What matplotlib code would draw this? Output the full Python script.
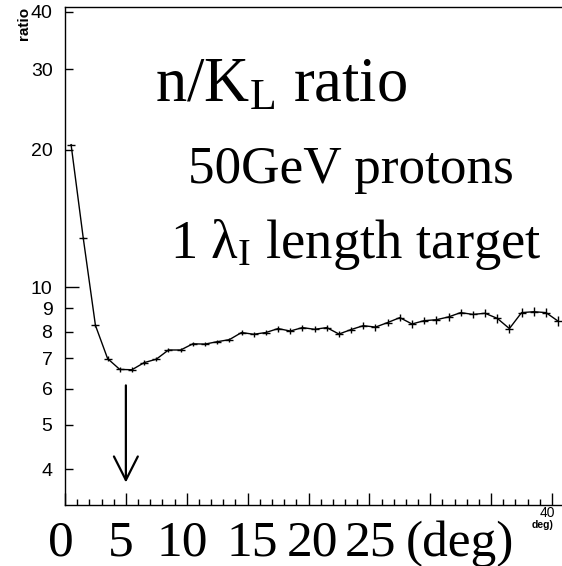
import matplotlib
matplotlib.use("Agg")
import matplotlib.pyplot as plt
from matplotlib.ticker import FixedLocator, FixedFormatter, NullFormatter, MultipleLocator
import matplotlib.transforms as mtransforms

# ---- data ----
bin_centers = [0.5 + i for i in range(41)]
ratio_values = [20.5, 12.8, 8.25, 6.98, 6.61, 6.60, 6.84, 6.96, 7.29, 7.29,
                7.52, 7.51, 7.60, 7.68, 7.96, 7.89, 7.96, 8.12, 8.02, 8.16,
                8.09, 8.16, 7.90, 8.08, 8.24, 8.18, 8.37, 8.58, 8.31, 8.45,
                8.49, 8.61, 8.80, 8.72, 8.77, 8.55, 8.12, 8.80, 8.84, 8.80,
                8.43]
ratio_errors = [0.08, 0.08, 0.08, 0.08, 0.08, 0.08, 0.08, 0.08, 0.08, 0.08,
                0.08, 0.08, 0.08, 0.08, 0.10, 0.10, 0.10, 0.12, 0.12, 0.12,
                0.12, 0.12, 0.12, 0.12, 0.14, 0.14, 0.14, 0.15, 0.16, 0.16,
                0.16, 0.17, 0.17, 0.17, 0.18, 0.18, 0.18, 0.19, 0.19, 0.19,
                0.20]
ytick_minor_vals = [4, 5, 6, 7, 8, 9, 20, 30, 40]
ytick_minor_labels = ["4", "5", "6", "7", "8", "9", "20", "30", "40"]
ytick_major_vals = [10]
ytick_major_labels = ["10"]
big_xlabels = ["0", "5", "10", "15", "20", "25", "(deg)"]
big_xlabel_pos = [-0.33, 4.6, 9.6, 15.4, 20.3, 25.1, 32.4]
arrow_x = 5
arrow_from = 6.10
arrow_to = 3.74

W, H = 562, 566
fig = plt.figure(figsize=(W / 100, H / 100), dpi=100)
ax = fig.add_axes([65 / W, 1 - 505 / H, (W - 65) / W, (505 - 7) / H])

ax.errorbar(bin_centers, ratio_values, yerr=ratio_errors, fmt='-', color='black',
            lw=1.0, elinewidth=1.0, marker='_', ms=6, mew=1.0, capsize=0)

ax.set_yscale('log')
ax.set_xlim(0, 40.82)
ax.set_ylim(3.34, 41.0)

ax.yaxis.set_major_locator(FixedLocator(ytick_major_vals))
ax.yaxis.set_major_formatter(FixedFormatter(ytick_major_labels))
ax.yaxis.set_minor_locator(FixedLocator(ytick_minor_vals))
ax.yaxis.set_minor_formatter(FixedFormatter(ytick_minor_labels))
ax.tick_params(axis='y', which='major', direction='in', length=10, width=1,
               labelsize=14, pad=9)
ax.tick_params(axis='y', which='minor', direction='in', length=6, width=1,
               labelsize=14, pad=9)
for lab in ax.get_yticklabels(which='both'):
    lab.set_fontfamily('Liberation Sans')

ax.xaxis.set_major_locator(MultipleLocator(5))
ax.xaxis.set_minor_locator(MultipleLocator(1))
ax.xaxis.set_major_formatter(NullFormatter())
ax.tick_params(axis='x', which='major', direction='in', length=9, width=1)
ax.tick_params(axis='x', which='minor', direction='in', length=4.5, width=1)

ax.spines['right'].set_visible(False)
for s in ['left', 'top', 'bottom']:
    ax.spines[s].set_linewidth(1.0)

# arrow
ax.annotate('', xy=(arrow_x, arrow_to), xytext=(arrow_x, arrow_from),
            arrowprops=dict(arrowstyle='->,head_length=0.85,head_width=0.43',
                            lw=1.6, color='black', shrinkA=0, shrinkB=0,
                            mutation_scale=20))

plt.rcParams['mathtext.fontset'] = 'custom'
plt.rcParams['mathtext.rm'] = 'Liberation Serif'
plt.rcParams['mathtext.it'] = 'Liberation Serif:italic'

serif = 'Liberation Serif'
# big labels
trans = mtransforms.blended_transform_factory(ax.transData, fig.transFigure)
for lab, xp in zip(big_xlabels, big_xlabel_pos):
    ax.text(xp, 1 - 556 / H, lab, transform=trans, ha='center', va='baseline',
            fontsize=37, family=serif, clip_on=False)

fig.text(155 / W, 1 - 101 / H, r"n/K$_{\mathrm{L}}$ ratio", fontsize=45,
         family=serif, va='baseline', ha='left')
fig.text(188 / W, 1 - 183 / H, "50GeV protons", fontsize=38.3, family=serif,
         va='baseline', ha='left')
fig.text(170 / W, 1 - 258 / H, r"1 λ$_{\mathrm{I}}$ length target", fontsize=39.3,
         family=serif, va='baseline', ha='left')

# small ROOT axis texts
fig.text(547 / W, 1 - 517 / H, "40", fontsize=10, family='Liberation Sans',
         ha='center', va='baseline')
fig.text(554 / W, 1 - 528 / H, "deg)", fontsize=7.5, family='Liberation Sans',
         fontweight='bold', ha='right', va='baseline')
fig.text(24 / W, 1 - 7 / H, "ratio", fontsize=11, family='Liberation Sans',
         fontweight='bold', rotation=90, ha='center', va='top')

fig.savefig("out.png", dpi=100)
